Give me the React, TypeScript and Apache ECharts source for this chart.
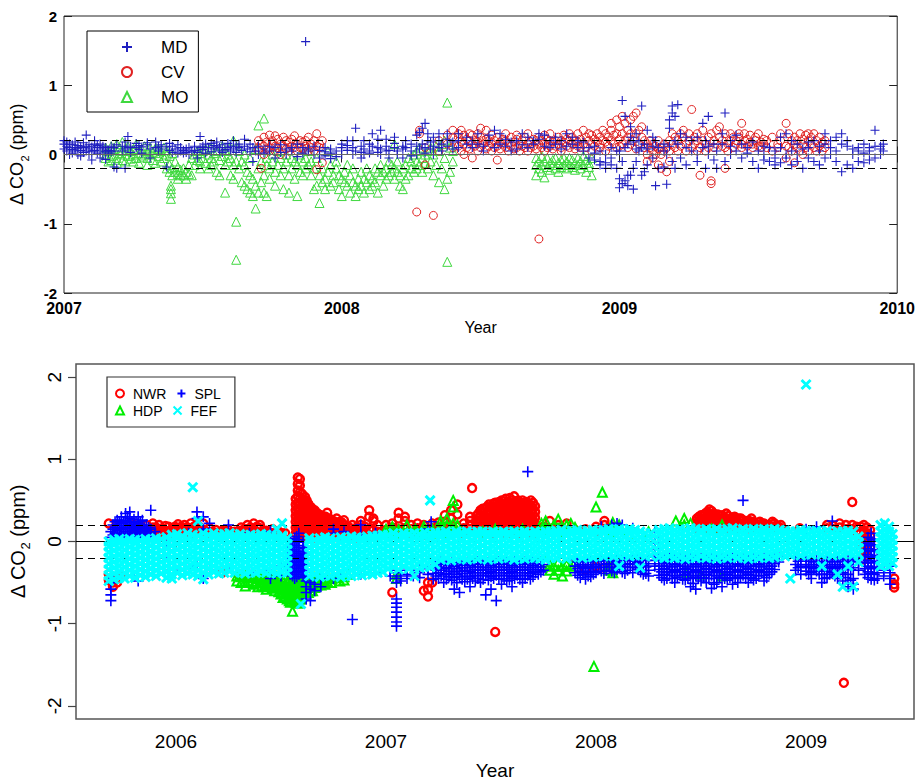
import React, { useEffect, useRef } from 'react';
import * as echarts from 'echarts';

// ---------- Top panel (2007-2010) : columns [year, y1, y2, ...] ----------
const topYearTicks = [2007, 2008, 2009, 2010];
const topSeriesNames = ['MD', 'CV', 'MO'];

const mdCols: number[][] = [
  [2007.00, 0.15, 0.08, 0.2], [2007.01, 0.05, 0.12, 0.18], [2007.02, 0.1, 0.0, 0.15], [2007.03, 0.07, 0.14, 0.02],
  [2007.04, 0.1, 0.18, 0.05], [2007.05, 0.0, 0.09, 0.13], [2007.06, 0.06, -0.02, 0.12], [2007.07, 0.1, 0.03, 0.17],
  [2007.08, 0.28, 0.12, 0.05], [2007.09, 0.08, 0.0, 0.14], [2007.10, 0.11, 0.04, -0.08], [2007.11, 0.15, 0.06, 0.2],
  [2007.12, 0.1, 0.02, 0.13], [2007.13, 0.05, 0.15, -0.05], [2007.14, 0.08, 0.12, 0.0], [2007.15, 0.04, 0.1, -0.07],
  [2007.16, 0.06, 0.02], [2007.17, 0.12, 0.04], [2007.18, 0.05, 0.1, -0.18], [2007.19, -0.2, 0.14],
  [2007.21, 0.12, 0.05], [2007.22, 0.18, 0.08, -0.2], [2007.23, 0.1, 0.26], [2007.24, 0.12, 0.03],
  [2007.26, 0.1, 0.16], [2007.27, 0.07, 0.13], [2007.28, 0.02, 0.11], [2007.30, 0.14, 0.17],
  [2007.31, 0.08, -0.05], [2007.33, 0.18, 0.1], [2007.34, 0.12, 0.05], [2007.35, 0.08, 0.14],
  [2007.37, 0.11, -0.18], [2007.38, 0.16, 0.06], [2007.39, 0.03, 0.12], [2007.40, 0.08],
  [2007.41, 0.14, 0.02], [2007.42, 0.05, 0.1], [2007.43, 0.02, 0.06], [2007.44, 0.08, 0.03],
  [2007.45, 0.1, 0.0], [2007.46, 0.04], [2007.47, 0.06, 0.12], [2007.48, 0.03, -0.05],
  [2007.49, 0.26, 0.1], [2007.50, 0.07, 0.12], [2007.51, 0.15, 0.02], [2007.52, 0.1],
  [2007.53, 0.04, 0.16], [2007.54, 0.08, 0.13], [2007.55, 0.12, 0.18], [2007.56, 0.05, 0.1],
  [2007.57, 0.14, 0.03], [2007.58, 0.07], [2007.59, 0.1, 0.16], [2007.60, 0.12, 0.05],
  [2007.61, 0.08, 0.2], [2007.62, 0.03, 0.12], [2007.63, 0.1, 0.15], [2007.64, 0.06],
  [2007.65, 0.22, 0.12], [2007.66, 0.08], [2007.67, 0.04, 0.15], [2007.68, 0.1, -0.1],
  [2007.69, 0.05], [2007.70, 0.12, 0.0], [2007.72, 0.08, 0.02], [2007.74, 0.12, 0.05],
  [2007.76, 0.1, -0.05], [2007.78, 0.14, 0.03], [2007.80, 0.08, 0.0], [2007.82, 0.1, 0.05],
  [2007.84, 0.15, -0.03], [2007.86, 0.1, 0.02], [2007.87, 1.63], [2007.88, 0.05, 0.08],
  [2007.90, 0.12, 0.0], [2007.92, 0.0, 0.06, -0.05], [2007.94, 0.04, -0.02, 0.1], [2007.96, 0.02, -0.06, 0.08],
  [2007.98, 0.05, -0.03], [2008.00, 0.1, 0.0, 0.15], [2008.02, 0.06, 0.13, 0.2], [2008.04, 0.1, 0.2, 0.0],
  [2008.05, 0.38, 0.05], [2008.07, 0.03, 0.12, -0.05], [2008.08, 0.0, 0.08, 0.2], [2008.10, 0.05, 0.15, 0.02],
  [2008.11, 0.3, 0.12], [2008.13, 0.1, 0.03, 0.22], [2008.14, 0.0, 0.35, 0.08], [2008.16, 0.12, 0.05, 0.22],
  [2008.17, 0.06, -0.05], [2008.19, 0.16, 0.1, 0.25], [2008.20, 0.05, 0.0], [2008.22, 0.12, 0.08, -0.05],
  [2008.23, 0.1, 0.2], [2008.25, 0.05, 0.15, -0.02], [2008.27, 0.12, 0.28, 0.0], [2008.28, 0.32, 0.08],
  [2008.29, 0.38, 0.15], [2008.30, 0.45, 0.1, 0.02], [2008.31, 0.3, 0.2], [2008.32, 0.18, 0.08],
  [2008.33, 0.12, 0.25, 0.0], [2008.35, 0.2, 0.1, 0.3], [2008.36, 0.05, 0.15], [2008.38, 0.12, 0.22, 0.3],
  [2008.40, 0.08, 0.18], [2008.42, 0.1, 0.2, 0.3], [2008.45, 0.15, 0.25], [2008.47, 0.1, 0.2],
  [2008.49, 0.3, 0.15], [2008.51, 0.12, 0.05], [2008.53, 0.2, 0.28], [2008.55, 0.1, 0.35],
  [2008.57, 0.15, 0.3], [2008.59, 0.12, 0.22], [2008.61, 0.05, 0.18], [2008.63, 0.2, 0.08],
  [2008.65, 0.14, 0.3], [2008.67, 0.1, 0.25], [2008.69, 0.15, 0.2], [2008.71, 0.22, 0.3],
  [2008.73, 0.12, 0.28], [2008.75, 0.1, 0.2], [2008.77, 0.25, 0.15], [2008.79, 0.08, 0.2],
  [2008.81, 0.3, 0.12], [2008.83, 0.15, 0.25], [2008.85, 0.1, 0.2], [2008.87, 0.05, 0.18],
  [2008.89, 0.1, -0.05], [2008.91, 0.02, -0.08, 0.12], [2008.93, -0.15, 0.05, -0.1], [2008.95, -0.12, 0.0, -0.2],
  [2008.97, -0.05, -0.15, 0.1], [2008.99, -0.2, 0.05], [2009.00, -0.48, -0.35, 0.05], [2009.01, 0.78, -0.42, -0.1],
  [2009.02, -0.38, 0.1, 0.55], [2009.03, -0.45, -0.3, 0.15], [2009.04, 0.4, -0.3, 0.25], [2009.05, -0.5, -0.2, 0.18],
  [2009.06, 0.3, -0.1, 0.08], [2009.07, 0.2, 0.05], [2009.08, 0.7, -0.3, 0.1], [2009.09, -0.25, 0.15],
  [2009.10, 0.35, 0.08, -0.15], [2009.12, 0.25, -0.05, 0.12], [2009.13, -0.45, 0.2], [2009.14, 0.1, -0.2],
  [2009.16, 0.05, -0.18, 0.15], [2009.17, -0.43, 0.0], [2009.18, 0.5, 0.38, 0.12], [2009.19, 0.6, 0.7, -0.1],
  [2009.20, 0.55, 0.2, -0.2], [2009.21, 0.72, 0.15], [2009.22, -0.05, 0.3], [2009.24, 0.1, -0.15, 0.25],
  [2009.26, 0.2, 0.05], [2009.28, 0.0, 0.25, -0.1], [2009.30, 0.45, 0.1], [2009.31, 0.2, -0.2],
  [2009.32, 0.55, 0.0, 0.12], [2009.34, 0.15, -0.08], [2009.35, -0.2, 0.05], [2009.37, 0.15, 0.3],
  [2009.38, 0.6, -0.1], [2009.40, 0.12, 0.0, 0.2], [2009.42, 0.05, 0.28], [2009.44, -0.05, 0.15],
  [2009.46, 0.1, 0.02], [2009.48, -0.1, 0.18], [2009.50, 0.05, -0.2], [2009.52, 0.0, -0.08, 0.12],
  [2009.54, -0.1, 0.1], [2009.56, -0.05, -0.15, 0.05], [2009.58, 0.1, -0.12, 0.25], [2009.60, 0.3, -0.05, 0.0],
  [2009.62, -0.15, 0.05, 0.2], [2009.64, 0.15, 0.0, -0.1], [2009.66, 0.08, -0.2], [2009.68, 0.1, -0.05, 0.18],
  [2009.70, 0.2, -0.1], [2009.72, 0.05, -0.15, 0.12], [2009.74, 0.3, -0.05, 0.15], [2009.76, 0.1, 0.0, 0.2],
  [2009.78, 0.25, -0.1, 0.05], [2009.80, 0.15, -0.25, 0.3], [2009.82, 0.12, -0.15, 0.2], [2009.84, 0.08, 0.0, -0.2],
  [2009.86, 0.1, -0.1, 0.05], [2009.88, 0.15, 0.02, -0.12], [2009.90, 0.05, 0.1, -0.08], [2009.92, 0.12, -0.05, 0.35],
  [2009.94, 0.08, 0.0, 0.12], [2009.95, 0.15, 0.05],
];

const cvCols: number[][] = [
  [2007.70, 0.2, 0.1, 0.05], [2007.71, 0.15, -0.2], [2007.72, 0.25, 0.12, 0.0], [2007.73, 0.18, 0.08],
  [2007.74, 0.28, 0.1, 0.05], [2007.75, 0.2, 0.15], [2007.76, 0.27, 0.05, 0.12], [2007.77, 0.22, 0.1],
  [2007.78, 0.15, 0.0], [2007.79, 0.25, 0.12], [2007.80, 0.2, 0.08], [2007.81, 0.1, 0.18, 0.05],
  [2007.82, 0.22, 0.12], [2007.83, 0.27, 0.1], [2007.84, 0.15, 0.05], [2007.85, 0.2, 0.1],
  [2007.86, 0.18, 0.08], [2007.87, 0.12, 0.2], [2007.88, 0.25, 0.05], [2007.89, 0.15, 0.1],
  [2007.90, 0.2, 0.05], [2007.91, 0.3, 0.12, -0.22], [2007.92, 0.1, 0.15], [2007.93, 0.2, -0.12],
  [2008.27, -0.83], [2008.28, 0.35, 0.3], [2008.30, 0.1, -0.15], [2008.33, -0.88],
  [2008.35, 0.2, 0.05], [2008.38, 0.15, 0.28], [2008.40, 0.1, 0.25, 0.35],
  [2008.42, 0.12, 0.25, 0.3], [2008.43, 0.05, 0.18, 0.35], [2008.44, 0.15, 0.28, 0.0], [2008.45, 0.1, 0.22],
  [2008.46, 0.2, 0.08, 0.3], [2008.47, 0.15, 0.28, -0.05], [2008.48, 0.12, 0.2], [2008.49, 0.05, 0.18, 0.3],
  [2008.50, 0.1, 0.25, 0.38], [2008.51, 0.2, 0.15], [2008.52, 0.08, 0.22, 0.35], [2008.53, 0.12, 0.2],
  [2008.54, 0.15, 0.05, 0.28], [2008.55, 0.2, 0.1], [2008.56, 0.12, 0.25, -0.08], [2008.57, 0.18, 0.08],
  [2008.58, 0.15, 0.22], [2008.59, 0.1, 0.2, 0.3], [2008.60, 0.05, 0.15], [2008.61, 0.12, 0.25],
  [2008.62, 0.18, 0.08], [2008.63, 0.1, 0.22, 0.28], [2008.64, 0.15, 0.05], [2008.65, 0.2, 0.12],
  [2008.66, 0.1, 0.25], [2008.67, 0.15, 0.05, 0.3], [2008.68, 0.18, 0.1], [2008.69, 0.12, 0.22],
  [2008.70, 0.2, 0.08], [2008.71, -1.22, 0.15, 0.25], [2008.72, 0.1, 0.2], [2008.73, 0.15, 0.05, 0.28],
  [2008.74, 0.22, 0.1], [2008.75, 0.12, 0.2, 0.3], [2008.76, 0.08, 0.18], [2008.77, 0.2, 0.12],
  [2008.78, 0.15, 0.25], [2008.79, 0.1, 0.2, 0.05], [2008.80, 0.18, 0.28], [2008.81, 0.12, 0.22],
  [2008.82, 0.2, 0.1, 0.3], [2008.83, 0.15, 0.25], [2008.84, 0.08, 0.2], [2008.85, 0.18, 0.3, 0.12],
  [2008.86, 0.22, 0.1], [2008.87, 0.15, 0.35], [2008.88, 0.1, 0.25], [2008.89, 0.2, 0.3],
  [2008.90, 0.15, 0.28, 0.05], [2008.91, 0.22, 0.12], [2008.92, 0.3, 0.18], [2008.93, 0.15, 0.25, 0.1],
  [2008.94, 0.35, 0.2], [2008.95, 0.18, 0.3, 0.05], [2008.96, 0.25, 0.12], [2008.97, 0.35, 0.2, 0.45],
  [2008.98, 0.28, 0.15], [2008.99, 0.3, 0.5, 0.1], [2009.00, 0.22, 0.4, 0.12], [2009.01, 0.3, 0.55, 0.15],
  [2009.02, 0.45, 0.2], [2009.03, 0.35, 0.25, 0.1], [2009.04, 0.5, 0.3, 0.15], [2009.05, 0.55, 0.2],
  [2009.06, 0.6, 0.3, 0.08], [2009.07, 0.35, 0.15], [2009.08, 0.25, 0.4], [2009.09, 0.2, 0.1],
  [2009.10, 0.15, 0.0, -0.1], [2009.11, 0.1, 0.2], [2009.12, 0.05, -0.05, 0.15], [2009.13, 0.12, 0.0],
  [2009.14, 0.08, -0.15, 0.2], [2009.15, 0.0, 0.1, -0.2], [2009.16, 0.15, 0.05], [2009.17, -0.25, 0.1],
  [2009.18, 0.05, 0.2, -0.1], [2009.19, 0.15, 0.3], [2009.20, 0.1, 0.25], [2009.21, 0.2, 0.05],
  [2009.22, 0.3, 0.12], [2009.23, 0.25, 0.35], [2009.24, 0.15, 0.05], [2009.25, 0.2, 0.3],
  [2009.26, 0.65, 0.1], [2009.27, 0.25, 0.15], [2009.28, 0.3, 0.05, 0.2], [2009.29, 0.1, -0.3],
  [2009.30, 0.2, 0.35], [2009.31, 0.15, 0.05], [2009.32, 0.25, 0.1], [2009.33, -0.38, -0.42, 0.3],
  [2009.34, 0.2, 0.1], [2009.35, 0.35, 0.15], [2009.36, 0.25, 0.4], [2009.37, 0.2, 0.12],
  [2009.38, 0.1, -0.2, 0.3], [2009.39, 0.15, 0.05], [2009.40, 0.3, 0.2], [2009.41, 0.1, 0.25],
  [2009.42, 0.2, 0.15], [2009.43, 0.25, 0.3], [2009.44, 0.15, 0.1, 0.45], [2009.45, 0.2, 0.3],
  [2009.46, 0.12, 0.22], [2009.47, 0.18, 0.28], [2009.48, 0.15, 0.1], [2009.49, 0.2, 0.25],
  [2009.50, 0.12, 0.3], [2009.51, 0.18, 0.1], [2009.52, 0.15, 0.22], [2009.53, 0.1, 0.2],
  [2009.55, 0.25, 0.05], [2009.57, 0.15, 0.1], [2009.58, 0.2, 0.3], [2009.60, 0.45, 0.12, -0.05],
  [2009.61, 0.3, 0.1], [2009.62, 0.2, 0.05], [2009.63, 0.25, 0.15, -0.12], [2009.64, 0.1, 0.2],
  [2009.65, 0.3, 0.05], [2009.66, 0.22, 0.15, 0.0], [2009.67, 0.28, 0.1], [2009.68, 0.3, 0.2, 0.05],
  [2009.69, 0.15, 0.25], [2009.70, 0.1, 0.3], [2009.71, 0.2, 0.05], [2009.72, 0.12, 0.25],
  [2009.73, 0.05, 0.18], [2009.74, 0.1, 0.2],
];

const moCols: number[][] = [
  [2007.15, 0.1, 0.0, -0.05], [2007.16, 0.05, -0.1], [2007.17, 0.12, -0.02, -0.08], [2007.18, 0.0, 0.08],
  [2007.19, -0.05, 0.15, -0.12], [2007.20, 0.02, 0.1], [2007.21, -0.08, 0.05, 0.18], [2007.22, 0.0, -0.1],
  [2007.23, 0.12, -0.02], [2007.24, 0.05, -0.06], [2007.25, -0.1, 0.08, 0.0], [2007.26, 0.15, -0.05],
  [2007.27, 0.02, -0.12], [2007.28, 0.08, -0.03], [2007.29, 0.0, 0.12], [2007.30, -0.05, 0.05, -0.15],
  [2007.31, 0.1, 0.0], [2007.32, -0.08, 0.04], [2007.33, 0.02, -0.12, 0.1], [2007.34, -0.02, 0.08],
  [2007.35, 0.05, -0.1], [2007.36, -0.05, 0.1], [2007.37, 0.0, -0.2, 0.06], [2007.38, -0.25, -0.15, -0.02],
  [2007.385, -0.45, -0.5, -0.56, -0.64], [2007.39, -0.2, -0.3, 0.02], [2007.40, -0.25, -0.1],
  [2007.41, -0.28, -0.18, -0.35], [2007.42, -0.22, -0.3], [2007.43, -0.3, -0.2], [2007.44, -0.25, -0.35],
  [2007.45, -0.15, -0.28], [2007.46, -0.05, -0.3], [2007.47, 0.0, -0.15], [2007.48, -0.08, 0.05],
  [2007.49, -0.1, 0.02, -0.2], [2007.50, 0.05, -0.05], [2007.51, -0.12, 0.08], [2007.52, 0.0, -0.2],
  [2007.53, -0.05, 0.1, -0.15], [2007.54, 0.02, -0.1], [2007.55, -0.25, 0.05], [2007.56, -0.08, -0.3],
  [2007.57, 0.12, -0.02], [2007.58, -0.55, -0.15, 0.05], [2007.59, -0.1, 0.0], [2007.60, -0.3, -0.05],
  [2007.61, 0.2, -0.15, -0.35], [2007.62, -0.97, -1.52, -0.1], [2007.63, -0.2, 0.05], [2007.64, -0.4, -0.1],
  [2007.65, -0.45, -0.15, 0.0], [2007.66, -0.5, -0.25], [2007.67, -0.55, -0.3, -0.05], [2007.68, -0.6, -0.35],
  [2007.69, -0.78, -0.45, 0.08], [2007.70, -0.55, 0.42, -0.2], [2007.71, -0.4, -0.1], [2007.72, 0.52, -0.3, -0.55],
  [2007.73, -0.15, -0.05, -0.6], [2007.74, -0.35, -0.2], [2007.75, -0.1, 0.0], [2007.76, -0.25, -0.45],
  [2007.77, -0.15, 0.05], [2007.78, -0.3, -0.05], [2007.79, -0.5, -0.2], [2007.80, -0.1, 0.0],
  [2007.81, -0.55, -0.3], [2007.82, -0.2, -0.05], [2007.83, -0.35, -0.1], [2007.84, -0.6, -0.15],
  [2007.85, -0.25, 0.0], [2007.86, -0.1, -0.3], [2007.87, -0.05, -0.2], [2007.88, -0.15, 0.05],
  [2007.89, -0.3, -0.1], [2007.90, -0.2, -0.5], [2007.91, -0.45, -0.05], [2007.92, -0.7, -0.3],
  [2007.93, -0.4, -0.2], [2007.94, -0.35, -0.5], [2007.95, -0.25, 0.05], [2007.96, -0.45, -0.15],
  [2007.97, -0.3, -0.4], [2007.98, -0.2, -0.1], [2007.99, -0.5, -0.3], [2008.00, -0.6, -0.35],
  [2008.01, -0.25, -0.4], [2008.02, -0.45, -0.15], [2008.03, -0.3, -0.55], [2008.04, -0.4, -0.2],
  [2008.05, -0.6, -0.45], [2008.06, -0.35, -0.5], [2008.07, -0.25, -0.45], [2008.08, -0.55, -0.35],
  [2008.09, -0.4, -0.2], [2008.10, -0.5, -0.3], [2008.11, -0.35, -0.45], [2008.12, -0.2, -0.4],
  [2008.13, -0.55, -0.25], [2008.14, -0.3, -0.15], [2008.15, -0.45, -0.25], [2008.16, -0.2, -0.35],
  [2008.17, -0.3, -0.1], [2008.18, -0.15, -0.25], [2008.19, -0.35, -0.2, 0.15], [2008.20, -0.25, -0.1],
  [2008.21, -0.45, -0.3], [2008.22, -0.5, -0.2], [2008.23, -0.15, -0.35], [2008.24, -0.3, -0.05],
  [2008.25, -0.2, -0.1], [2008.26, -0.25, 0.0], [2008.27, -0.1, 0.05, -0.2], [2008.28, -0.15, 0.1],
  [2008.29, -0.05, -0.25], [2008.30, 0.0, -0.12], [2008.31, 0.05, -0.2], [2008.32, -0.1, 0.1],
  [2008.33, -0.3, 0.0], [2008.34, -0.15, 0.12], [2008.35, -0.4, 0.05], [2008.36, -0.2, 0.15],
  [2008.37, -0.5, 0.2, -0.05], [2008.38, 0.75, -1.55, -0.35], [2008.39, 0.1, -0.25], [2008.40, 0.05, -0.1],
  [2008.70, -0.05, -0.15, -0.3], [2008.71, -0.1, -0.2], [2008.72, -0.02, -0.15, -0.25], [2008.73, -0.1, -0.33],
  [2008.74, -0.05, -0.18], [2008.75, -0.12, -0.22], [2008.76, -0.08, -0.15], [2008.77, -0.2, -0.05],
  [2008.78, -0.12, -0.25], [2008.79, -0.08, -0.18], [2008.80, -0.15, -0.05], [2008.81, -0.1, -0.2],
  [2008.82, -0.05, -0.15], [2008.83, -0.18, -0.08], [2008.84, -0.12, -0.22], [2008.85, -0.05, -0.15],
  [2008.86, -0.1, -0.2], [2008.87, -0.15, -0.02], [2008.88, -0.08, -0.25], [2008.89, -0.12, -0.18],
  [2008.90, -0.3, -0.05],
];

// ---------- Bottom panel (2005.5-2009.5) ----------
const bottomXMin = 2005.524;
const bottomXMax = 2009.514;
const bottomYearTicks = [2006, 2007, 2008, 2009];
const bottomYTicks = [-2, -1, 0, 1, 2];
const bottomSeriesNames = ['NWR', 'SPL', 'HDP', 'FEF'];

const nwrCols: number[][] = [
  [2005.68, 0.22, -0.4, -0.47], [2005.70, -0.5, -0.55], [2005.72, -0.45, -0.5], [2005.74, -0.42],
  [2005.80, 0.08, 0.14, 0.2], [2005.83, 0.06, 0.12, 0.19], [2005.86, 0.07, 0.13, 0.2], [2005.89, 0.05, 0.11, 0.17, 0.22],
  [2005.92, 0.08, 0.14, 0.2], [2005.95, 0.07, 0.13, 0.19], [2005.98, 0.09, 0.15], [2006.01, 0.1, 0.16, 0.21],
  [2006.04, 0.1, 0.16, 0.2], [2006.07, 0.09, 0.14, 0.22], [2006.10, 0.1, 0.15, 0.2], [2006.13, 0.09, 0.14, 0.22],
  [2006.16, 0.1, 0.16], [2006.19, 0.09, 0.14], [2006.22, 0.1, 0.13, -0.38], [2006.25, 0.09, 0.14],
  [2006.28, 0.1, 0.12], [2006.30, -0.4], [2006.31, 0.09, 0.13, 0.17], [2006.34, 0.1, 0.15, 0.2], [2006.37, 0.09, 0.14, 0.22],
  [2006.40, 0.1, 0.16, 0.2], [2006.43, 0.09, 0.13], [2006.46, 0.1, 0.15], [2006.49, 0.08, 0.12], [2006.52, 0.1],
  [2005.815, 0.1, 0.17], [2005.845, 0.1, 0.16], [2005.875, 0.09, 0.15], [2005.905, 0.1, 0.17], [2005.935, 0.1, 0.16],
  [2005.965, 0.11, 0.18], [2005.995, 0.12, 0.18], [2006.025, 0.12, 0.18], [2006.055, 0.12, 0.17], [2006.085, 0.12, 0.18],
  [2006.115, 0.12, 0.17], [2006.145, 0.12], [2006.175, 0.12], [2006.205, 0.11], [2006.235, 0.12], [2006.265, 0.11],
  [2006.295, 0.12], [2006.325, 0.11, 0.15], [2006.355, 0.12, 0.17], [2006.385, 0.12, 0.18], [2006.415, 0.12],
  [2006.445, 0.11], [2006.475, 0.1], [2006.505, 0.1],
  [2006.57, 0.1, 0.17, 0.24, 0.31, 0.38, 0.45, 0.52], [2006.58, 0.12, 0.19, 0.26, 0.33, 0.4, 0.47, 0.55, 0.62, 0.7, 0.78],
  [2006.59, 0.1, 0.17, 0.24, 0.31, 0.38, 0.45, 0.52, 0.6, 0.68, 0.76], [2006.60, 0.08, 0.15, 0.22, 0.29, 0.36, 0.43, 0.5, 0.58],
  [2006.615, 0.05, 0.12, 0.19, 0.26, 0.33, 0.4, 0.47, 0.54], [2006.63, 0.05, 0.12, 0.19, 0.26, 0.33, 0.4, 0.46],
  [2006.645, 0.06, 0.13, 0.2, 0.27, 0.34, 0.41], [2006.66, 0.05, 0.12, 0.19, 0.26, 0.33, 0.38],
  [2006.675, 0.06, 0.13, 0.2, 0.27, 0.34], [2006.69, 0.05, 0.12, 0.19, 0.26, 0.32],
  [2006.705, 0.06, 0.13, 0.2, 0.27, 0.3], [2006.72, 0.05, 0.12, 0.19, 0.26, 0.35],
  [2006.735, 0.06, 0.13, 0.2, 0.27], [2006.75, 0.05, 0.12, 0.19, 0.25], [2006.765, 0.06, 0.13, 0.2, 0.28],
  [2006.78, 0.05, 0.12, 0.19, 0.24], [2006.80, 0.06, 0.13, 0.2, 0.26], [2006.82, 0.05, 0.12, 0.18],
  [2006.84, 0.06, 0.13, 0.2], [2006.86, 0.05, 0.12, 0.17], [2006.88, 0.06, 0.13, 0.2, 0.25], [2006.90, 0.05, 0.12, 0.18],
  [2006.6075, 0.09, 0.16, 0.23, 0.3, 0.37, 0.44, 0.51], [2006.6225, 0.09, 0.16, 0.23, 0.3, 0.37, 0.44, 0.5],
  [2006.6375, 0.09, 0.16, 0.23, 0.3, 0.37, 0.43], [2006.6525, 0.09, 0.16, 0.23, 0.3, 0.37], [2006.6675, 0.09, 0.16, 0.23, 0.3, 0.35],
  [2006.6825, 0.09, 0.16, 0.23, 0.3], [2006.6975, 0.09, 0.16, 0.23, 0.29], [2006.7125, 0.09, 0.16, 0.23, 0.3],
  [2006.7275, 0.09, 0.16, 0.23, 0.28], [2006.7425, 0.09, 0.16, 0.22], [2006.7575, 0.09, 0.16, 0.23], [2006.7725, 0.09, 0.16, 0.22],
  [2006.79, 0.09, 0.16, 0.23], [2006.81, 0.09, 0.16], [2006.83, 0.09, 0.16], [2006.85, 0.09, 0.15], [2006.87, 0.09, 0.16], [2006.89, 0.09, 0.15],
  [2006.92, 0.08, 0.15, 0.38, 0.3], [2006.94, 0.07, 0.14, 0.25, 0.28], [2006.96, 0.06, 0.12, 0.2],
  [2007.00, 0.08, 0.14, 0.2], [2007.03, 0.1, 0.17, 0.22, -0.62], [2007.06, 0.09, 0.15, 0.28, 0.35],
  [2007.09, 0.1, 0.16, 0.3, 0.25], [2007.12, 0.09, 0.15, 0.2], [2007.15, 0.1, 0.16, 0.22],
  [2007.18, 0.08, 0.15, 0.2, -0.6], [2007.20, -0.67, -0.58, -0.5], [2007.22, 0.1, 0.16, 0.22, -0.5],
  [2007.25, 0.1, 0.17, 0.23], [2007.28, 0.12, 0.18, 0.32, 0.24], [2007.31, 0.1, 0.16, 0.38, 0.28],
  [2007.34, 0.12, 0.18, 0.45, 0.33], [2007.37, 0.1, 0.16, 0.22], [2007.40, 0.12, 0.19, 0.25, 0.3], [2007.41, 0.65],
  [2007.43, 0.1, 0.17, 0.24, 0.31], [2007.45, 0.11, 0.18, 0.25, 0.32, 0.38], [2007.47, 0.1, 0.17, 0.24, 0.31, 0.4],
  [2007.49, 0.11, 0.18, 0.25, 0.32, 0.39, 0.45], [2007.51, 0.1, 0.17, 0.24, 0.31, 0.38, 0.46], [2007.52, -1.1],
  [2007.53, 0.11, 0.18, 0.25, 0.32, 0.39, 0.47], [2007.55, 0.1, 0.17, 0.24, 0.31, 0.38, 0.45, 0.5],
  [2007.57, 0.11, 0.18, 0.25, 0.32, 0.39, 0.46, 0.52], [2007.59, 0.1, 0.17, 0.24, 0.31, 0.38, 0.45, 0.53],
  [2007.61, 0.11, 0.18, 0.25, 0.32, 0.39, 0.48, 0.55], [2007.63, 0.1, 0.17, 0.24, 0.31, 0.38, 0.44, 0.5],
  [2007.65, 0.11, 0.18, 0.25, 0.32, 0.38, 0.45, 0.5], [2007.67, 0.1, 0.17, 0.24, 0.31, 0.36, 0.43, 0.48],
  [2007.69, 0.11, 0.18, 0.25, 0.3, 0.37, 0.44, 0.5], [2007.71, 0.1, 0.17, 0.22, 0.29, 0.36, 0.43],
  [2007.44, 0.14, 0.21, 0.28, 0.34], [2007.46, 0.14, 0.21, 0.28, 0.35, 0.4], [2007.48, 0.14, 0.21, 0.28, 0.35, 0.42],
  [2007.50, 0.14, 0.21, 0.28, 0.35, 0.42], [2007.52, 0.14, 0.21, 0.28, 0.35, 0.42, 0.47], [2007.54, 0.14, 0.21, 0.28, 0.35, 0.42, 0.48],
  [2007.56, 0.14, 0.21, 0.28, 0.35, 0.42, 0.49], [2007.58, 0.14, 0.21, 0.28, 0.35, 0.42, 0.48], [2007.60, 0.14, 0.21, 0.28, 0.35, 0.42, 0.5],
  [2007.62, 0.14, 0.21, 0.28, 0.35, 0.42, 0.49], [2007.64, 0.14, 0.21, 0.28, 0.35, 0.41, 0.47], [2007.66, 0.14, 0.21, 0.28, 0.34, 0.41, 0.47],
  [2007.68, 0.14, 0.21, 0.28, 0.33, 0.4, 0.46], [2007.70, 0.14, 0.21, 0.26, 0.33, 0.4, 0.47],
  [2007.75, 0.13, 0.18], [2007.78, 0.12, 0.25], [2007.82, 0.15, 0.2], [2007.86, 0.12, 0.22], [2007.90, 0.14],
  [2007.95, 0.15, -0.35], [2008.00, 0.12, 0.18, -0.3], [2008.04, 0.2, 0.25, -0.32], [2008.08, 0.18],
  [2008.48, 0.16, 0.22, 0.28], [2008.50, 0.15, 0.21, 0.27, 0.32], [2008.52, 0.16, 0.22, 0.28, 0.34],
  [2008.54, 0.15, 0.21, 0.27, 0.33, 0.39], [2008.56, 0.16, 0.22, 0.28, 0.34], [2008.58, 0.15, 0.21, 0.27, 0.33],
  [2008.60, 0.16, 0.22, 0.28, 0.32], [2008.62, 0.15, 0.21, 0.27, 0.34], [2008.64, 0.16, 0.22, 0.28],
  [2008.66, 0.15, 0.21, 0.26, 0.3], [2008.68, 0.16, 0.22, 0.28], [2008.70, 0.15, 0.21, 0.26],
  [2008.72, 0.16, 0.22, 0.25], [2008.74, 0.15, 0.21, 0.28], [2008.76, 0.16, 0.22], [2008.78, 0.15, 0.2, 0.24],
  [2008.80, 0.16, 0.22], [2008.82, 0.15, 0.2], [2008.84, 0.16, 0.21, 0.24], [2008.86, 0.15, 0.19],
  [2008.88, 0.16, 0.2], [2008.90, 0.14],
  [2008.49, 0.19, 0.25, 0.3], [2008.51, 0.19, 0.25, 0.31], [2008.53, 0.19, 0.25, 0.31, 0.36], [2008.55, 0.19, 0.25, 0.31, 0.37],
  [2008.57, 0.19, 0.25, 0.31], [2008.59, 0.19, 0.25, 0.31], [2008.61, 0.19, 0.25, 0.3], [2008.63, 0.19, 0.25, 0.31],
  [2008.65, 0.19, 0.25, 0.29], [2008.67, 0.19, 0.25], [2008.69, 0.19, 0.25, 0.28], [2008.71, 0.19, 0.24], [2008.73, 0.19, 0.25],
  [2008.75, 0.19, 0.24], [2008.77, 0.19], [2008.79, 0.18, 0.22], [2008.81, 0.19], [2008.83, 0.18], [2008.85, 0.18, 0.22], [2008.87, 0.18],
  [2008.97, 0.16], [2009.10, 0.16, 0.2], [2009.13, 0.15, 0.19],
  [2009.16, 0.17, 0.22], [2009.18, -1.72], [2009.19, 0.15, 0.2], [2009.22, 0.48, 0.2, 0.15], [2009.24, 0.18, 0.12],
  [2009.26, 0.18, 0.11, 0.04, -0.03, -0.1], [2009.275, 0.2, 0.13, 0.06, -0.01, -0.08, -0.15, -0.22],
  [2009.29, 0.17, 0.1, 0.03, -0.04, -0.11, -0.18], [2009.305, 0.14, 0.07, 0.0, -0.07],
  [2009.42, -0.45, -0.52, -0.56],
];

const hdpCols: number[][] = [
  [2006.29, -0.42, -0.48], [2006.31, -0.43, -0.5], [2006.33, -0.42, -0.48, -0.54], [2006.35, -0.43, -0.5],
  [2006.37, -0.44, -0.52], [2006.39, -0.45, -0.55],
  [2006.38, -0.42, -0.48], [2006.40, -0.43, -0.5], [2006.42, -0.42, -0.49, -0.55], [2006.44, -0.44, -0.51],
  [2006.46, -0.42, -0.48, -0.56], [2006.48, -0.43, -0.5, -0.57], [2006.50, -0.44, -0.51, -0.58, -0.64],
  [2006.52, -0.45, -0.52, -0.59, -0.66], [2006.54, -0.46, -0.53, -0.6, -0.68, -0.72],
  [2006.555, -0.48, -0.55, -0.62, -0.7, -0.85], [2006.57, -0.47, -0.54, -0.61, -0.68, -0.74],
  [2006.585, -0.48, -0.55, -0.62, -0.7], [2006.60, -0.45, -0.52, -0.59, -0.66], [2006.62, -0.44, -0.51, -0.58],
  [2006.64, -0.45, -0.52, -0.6], [2006.66, -0.44, -0.5, -0.56], [2006.68, -0.43, -0.5], [2006.70, -0.44, -0.5],
  [2006.72, -0.42, -0.48], [2006.75, -0.43], [2006.78, -0.42, -0.48], [2006.82, -0.4],
  [2006.41, -0.47, -0.54], [2006.43, -0.46, -0.53, -0.58], [2006.45, -0.47, -0.54], [2006.47, -0.46, -0.53, -0.6],
  [2006.49, -0.47, -0.54, -0.61], [2006.51, -0.48, -0.55, -0.62, -0.68], [2006.53, -0.49, -0.56, -0.63, -0.7],
  [2006.545, -0.5, -0.57, -0.64, -0.74], [2006.565, -0.51, -0.58, -0.65, -0.72], [2006.58, -0.51, -0.58, -0.66, -0.75],
  [2006.595, -0.49, -0.56, -0.63, -0.7], [2006.61, -0.48, -0.55, -0.62], [2006.63, -0.48, -0.55, -0.62],
  [2006.65, -0.47, -0.54, -0.6], [2006.67, -0.47, -0.53], [2006.69, -0.46, -0.53], [2006.71, -0.46, -0.52],
  [2006.74, -0.45, -0.5], [2006.77, -0.44], [2006.80, -0.43, -0.47],
  [2007.00, 0.1, 0.15], [2007.03, 0.12, 0.18], [2007.05, -0.4, -0.45], [2007.06, 0.1, 0.14], [2007.10, 0.12, 0.2],
  [2007.14, 0.1, 0.15], [2007.18, 0.12, 0.18], [2007.22, 0.1, 0.15], [2007.26, 0.12, 0.18, 0.25],
  [2007.29, 0.1, 0.2, 0.28], [2007.32, 0.15, 0.22, 0.42, 0.5], [2007.34, 0.12, 0.2],
  [2007.46, 0.12], [2007.52, 0.15], [2007.60, 0.12], [2007.65, 0.15],
  [2007.74, 0.22, 0.12], [2007.76, 0.25, 0.17, -0.25], [2007.78, 0.15, -0.28, -0.35], [2007.80, 0.2, -0.3, -0.4],
  [2007.82, 0.27, 0.15, -0.25, -0.35], [2007.84, -0.3, -0.42, 0.12], [2007.86, 0.2, -0.28, -0.36],
  [2007.88, 0.22, -0.3], [2007.90, 0.17, -0.25], [2007.99, -1.52], [2008.00, 0.42], [2008.03, 0.6],
  [2008.06, -0.28, -0.35], [2008.08, 0.12, 0.23, -0.3, -0.38], [2008.11, 0.15, 0.2], [2008.15, 0.1], [2008.25, 0.12],
  [2008.38, 0.25], [2008.42, 0.2, 0.28], [2008.43, -0.38], [2008.45, 0.22], [2008.50, -0.4], [2008.55, 0.15],
  [2008.60, 0.2, -0.42],
];

const splCols: number[][] = [
  [2005.69, 0.05, 0.12, -0.5, -0.58, -0.65, -0.72], [2005.70, 0.08, 0.15, 0.2, -0.45], [2005.72, 0.06, 0.13, 0.2, 0.26],
  [2005.74, 0.08, 0.15, 0.22, 0.3], [2005.76, 0.05, 0.12, 0.19, 0.26, 0.34], [2005.78, 0.07, 0.14, 0.21, 0.28, 0.36],
  [2005.80, 0.06, 0.13, 0.2, 0.27, -0.42], [2005.82, 0.08, 0.15, 0.22, 0.3, -0.48], [2005.84, 0.05, 0.12, 0.19, 0.26],
  [2005.86, 0.06, 0.13, 0.2], [2005.88, 0.38, 0.08, 0.15], [2005.90, 0.05, 0.12],
  [2005.71, 0.1, 0.17, 0.24], [2005.73, 0.1, 0.17, 0.24], [2005.75, 0.09, 0.16, 0.23], [2005.77, 0.1, 0.17, 0.24, 0.3],
  [2005.79, 0.1, 0.17, 0.24], [2005.81, 0.1, 0.17, 0.24], [2005.83, 0.1, 0.17, 0.24], [2005.85, 0.09, 0.16], [2005.87, 0.1, 0.17],
  [2005.95, -0.05, 0.03], [2005.97, -0.2, -0.35, 0.0], [2006.02, -0.35, 0.05], [2006.06, -0.33, 0.1],
  [2006.10, 0.36, 0.28, -0.3], [2006.13, 0.3, 0.15, -0.45], [2006.16, 0.22, -0.35], [2006.25, 0.2, -0.32],
  [2006.35, 0.1, -0.38], [2006.45, 0.12, -0.35, -0.45], [2006.50, -0.3, -0.42],
  [2006.545, -0.4, -0.33, -0.26, -0.19, -0.12, -0.05, 0.02],
  [2006.555, -0.42, -0.35, -0.28, -0.21, -0.14, -0.07], [2006.565, -0.45, -0.38, -0.31, -0.24, -0.17, -0.1, -0.03, 0.04],
  [2006.575, -0.43, -0.36, -0.29, -0.22, -0.15, -0.08, -0.01, 0.06], [2006.585, -0.4, -0.33, -0.26, -0.19, -0.12, -0.05, 0.02, 0.1],
  [2006.595, -0.38, -0.31, -0.24, -0.17], [2006.605, -0.42, -0.35, -0.28, -0.21, -0.14, -0.07, 0.0],
  [2006.615, -0.44, -0.37, -0.3, -0.23, -0.16, -0.09],
  [2006.62, -0.48, -0.55, -0.62, -0.7], [2006.64, -0.5, -0.58, -0.72],
  [2006.66, -0.52, -0.6], [2006.69, -0.45, -0.55], [2006.75, 0.1, 0.15, -0.45], [2006.80, 0.12, -0.4],
  [2006.84, -0.95], [2006.88, 0.2, 0.08, -0.4], [2006.95, 0.1, -0.38],
  [2007.02, -0.35, -0.42], [2007.05, -0.38, -0.45, -0.5, -0.7, -0.75, -0.8, -0.86, -0.92, -0.98, -1.03],
  [2007.07, -0.35, -0.42, -0.48], [2007.10, -0.32, -0.4, -0.45], [2007.13, -0.35, -0.42],
  [2007.16, -0.3, -0.38, -0.44], [2007.20, -0.33, -0.4, 0.15], [2007.215, 0.24],
  [2007.225, -0.25, -0.32, -0.39, -0.46], [2007.25, -0.24, -0.31, -0.38, -0.45], [2007.275, -0.26, -0.33, -0.4, -0.5],
  [2007.30, -0.22, -0.29, -0.36, -0.43], [2007.325, -0.23, -0.3, -0.37, -0.44, -0.58],
  [2007.35, -0.22, -0.29, -0.36, -0.43, -0.62], [2007.375, -0.21, -0.28, -0.35, -0.42, -0.49],
  [2007.40, -0.22, -0.29, -0.36, -0.43, -0.55], [2007.425, -0.2, -0.27, -0.34, -0.41, -0.48],
  [2007.45, -0.21, -0.28, -0.35, -0.42, -0.5], [2007.475, -0.2, -0.27, -0.34, -0.41, -0.65],
  [2007.50, -0.22, -0.29, -0.36, -0.43, -0.58], [2007.525, -0.2, -0.27, -0.34, -0.41, -0.72],
  [2007.55, -0.21, -0.28, -0.35, -0.42, -0.52], [2007.575, -0.2, -0.27, -0.34, -0.41, -0.48],
  [2007.60, -0.22, -0.29, -0.36, -0.43, -0.55], [2007.625, -0.2, -0.27, -0.34, -0.41],
  [2007.65, -0.21, -0.28, -0.35, -0.42, -0.5], [2007.675, -0.2, -0.27, -0.34, -0.41, 0.85],
  [2007.70, -0.22, -0.29, -0.36, -0.43], [2007.725, -0.2, -0.27, -0.34, -0.4], [2007.75, -0.22, -0.28, -0.35],
  [2007.2375, -0.28, -0.35, -0.42], [2007.2625, -0.21, -0.28, -0.35, -0.42], [2007.2875, -0.25, -0.32, -0.39, -0.46],
  [2007.3125, -0.26, -0.33, -0.4, -0.47], [2007.3375, -0.26, -0.33, -0.4, -0.5], [2007.3625, -0.25, -0.32, -0.39, -0.46],
  [2007.3875, -0.25, -0.32, -0.39, -0.46], [2007.4125, -0.24, -0.31, -0.38, -0.45], [2007.4375, -0.24, -0.31, -0.38, -0.45],
  [2007.4625, -0.24, -0.31, -0.38, -0.46], [2007.4875, -0.25, -0.32, -0.39, -0.47], [2007.5125, -0.24, -0.31, -0.38, -0.45],
  [2007.5375, -0.24, -0.31, -0.38, -0.46], [2007.5625, -0.24, -0.31, -0.38, -0.45], [2007.5875, -0.25, -0.32, -0.39, -0.47],
  [2007.6125, -0.24, -0.31, -0.38, -0.45], [2007.6375, -0.24, -0.31, -0.38, -0.46], [2007.6625, -0.24, -0.31, -0.38, -0.45],
  [2007.6875, -0.25, -0.32, -0.39, -0.46], [2007.7125, -0.24, -0.31, -0.38], [2007.7375, -0.24, -0.31, -0.37],
  [2007.90, -0.22, -0.3, -0.38], [2007.925, -0.2, -0.28, -0.36, -0.44], [2007.95, -0.22, -0.3, -0.38, -0.46],
  [2007.975, -0.2, -0.28, -0.36, -0.43], [2008.00, -0.22, -0.3, -0.38],
  [2007.9125, -0.25, -0.33, -0.41], [2007.9375, -0.24, -0.32, -0.4], [2007.9625, -0.25, -0.33, -0.42], [2007.9875, -0.24, -0.32, -0.4],
  [2008.025, -0.2, -0.28, -0.36, 0.18], [2008.05, -0.19, -0.27, -0.35], [2008.075, -0.2, -0.28, -0.36, 0.2],
  [2008.10, -0.18, -0.26, -0.34, 0.22, 0.15], [2008.125, -0.2, -0.28, -0.37, 0.2], [2008.15, -0.19, -0.27, -0.35],
  [2008.175, -0.2, -0.28, -0.38, 0.16], [2008.20, -0.18, -0.26, -0.34], [2008.225, -0.2, -0.29, -0.4],
  [2008.25, -0.19, -0.27, -0.35, -0.42],
  [2008.0125, -0.24, -0.32], [2008.0375, -0.23, -0.31, -0.39], [2008.0625, -0.23, -0.31], [2008.0875, -0.24, -0.32, -0.38],
  [2008.1125, -0.22, -0.3], [2008.1375, -0.23, -0.31, -0.39], [2008.1625, -0.23, -0.31], [2008.1875, -0.24, -0.32],
  [2008.2125, -0.22, -0.3, -0.37], [2008.2375, -0.23, -0.31, -0.39],
  [2008.28, -0.3, -0.23, -0.16, -0.09, -0.02, 0.05, 0.12],
  [2008.30, -0.2, -0.27, -0.34, -0.41], [2008.325, -0.19, -0.26, -0.33, -0.4, -0.47], [2008.35, -0.2, -0.27, -0.34, -0.41],
  [2008.375, -0.21, -0.28, -0.35, -0.42, -0.5], [2008.40, -0.2, -0.27, -0.34, -0.41],
  [2008.425, -0.19, -0.26, -0.33, -0.4, -0.47], [2008.45, -0.2, -0.27, -0.34, -0.41, -0.55],
  [2008.475, -0.21, -0.28, -0.35, -0.42, -0.58], [2008.50, -0.2, -0.27, -0.34, -0.41, -0.48],
  [2008.525, -0.19, -0.26, -0.33, -0.4, -0.5], [2008.55, -0.2, -0.27, -0.34, -0.41, -0.57],
  [2008.575, -0.21, -0.28, -0.35, -0.42, -0.5], [2008.60, -0.2, -0.27, -0.34, -0.41, -0.55],
  [2008.625, -0.19, -0.26, -0.33, -0.4, -0.47], [2008.65, -0.2, -0.27, -0.34, -0.41, -0.52],
  [2008.675, -0.21, -0.28, -0.35, -0.42, -0.5], [2008.70, -0.2, -0.27, -0.34, -0.41, 0.5],
  [2008.725, -0.19, -0.26, -0.33, -0.4, -0.5], [2008.75, -0.2, -0.27, -0.34, -0.41, -0.47],
  [2008.775, -0.21, -0.28, -0.35, -0.42], [2008.80, -0.2, -0.27, -0.34, -0.41, -0.48],
  [2008.825, -0.19, -0.26, -0.33, -0.4], [2008.85, -0.2, -0.27, -0.34], [2008.87, -0.18, -0.25],
  [2008.3125, -0.23, -0.3, -0.37, -0.44], [2008.3375, -0.23, -0.3, -0.37, -0.45], [2008.3625, -0.24, -0.31, -0.38, -0.45],
  [2008.3875, -0.23, -0.3, -0.37, -0.44], [2008.4125, -0.23, -0.3, -0.37, -0.46], [2008.4375, -0.24, -0.31, -0.38, -0.45],
  [2008.4625, -0.23, -0.3, -0.37, -0.44, -0.51], [2008.4875, -0.24, -0.31, -0.38, -0.45], [2008.5125, -0.23, -0.3, -0.37, -0.44],
  [2008.5375, -0.23, -0.3, -0.37, -0.45], [2008.5625, -0.24, -0.31, -0.38, -0.45, -0.52], [2008.5875, -0.23, -0.3, -0.37, -0.44],
  [2008.6125, -0.23, -0.3, -0.37, -0.45], [2008.6375, -0.24, -0.31, -0.38, -0.44], [2008.6625, -0.23, -0.3, -0.37, -0.45],
  [2008.6875, -0.23, -0.3, -0.37, -0.44], [2008.7125, -0.24, -0.31, -0.38, -0.45], [2008.7375, -0.23, -0.3, -0.37, -0.44],
  [2008.7625, -0.23, -0.3, -0.37, -0.45], [2008.7875, -0.24, -0.31, -0.38], [2008.8125, -0.23, -0.3, -0.37, -0.44],
  [2008.8375, -0.23, -0.3, -0.37],
  [2008.95, -0.2, -0.28, -0.35], [2008.975, -0.22, -0.3, -0.4], [2009.00, -0.2, -0.28, -0.36, 0.15],
  [2009.025, -0.22, -0.3, -0.38, -0.45], [2009.05, -0.2, -0.28, -0.36, 0.18], [2009.075, -0.21, -0.29, -0.4, -0.5],
  [2009.10, -0.2, -0.28, -0.36, -0.44], [2009.125, -0.22, -0.3, -0.38, 0.25], [2009.15, -0.2, -0.28, -0.36, -0.45],
  [2009.175, -0.22, -0.3, -0.38, -0.48], [2009.20, -0.2, -0.28, -0.4, -0.55], [2009.225, -0.22, -0.32, -0.45, -0.52, -0.58],
  [2009.25, -0.25, -0.35],
  [2008.9625, -0.24, -0.32], [2009.0125, -0.24, -0.32, -0.4], [2009.0375, -0.25, -0.33], [2009.0625, -0.24, -0.32, -0.4],
  [2009.0875, -0.25, -0.33, -0.45], [2009.1125, -0.24, -0.32, -0.4], [2009.1375, -0.25, -0.33, -0.42], [2009.1625, -0.24, -0.32, -0.4],
  [2009.1875, -0.25, -0.34, -0.44], [2009.2125, -0.24, -0.34, -0.47],
  [2009.28, -0.05, -0.12, -0.19, -0.26, -0.33, -0.4],
  [2009.295, 0.05, -0.02, -0.09, -0.16, -0.23, -0.3, -0.37, -0.44],
  [2009.31, 0.1, 0.03, -0.04, -0.11, -0.18, -0.25, -0.32, -0.39, -0.46],
  [2009.325, 0.02, -0.05, -0.12, -0.19, -0.26, -0.33, -0.4, -0.47], [2009.34, -0.1, -0.17, -0.24, -0.31, -0.38, -0.45],
  [2009.37, -0.35, -0.42], [2009.40, -0.3, -0.38, -0.45, -0.52],
];

const fefCols: number[][] = [
  [2005.680, -0.48, -0.41, -0.34, -0.27, -0.2, -0.13, -0.06, 0.0], [2005.705, -0.46, -0.39, -0.32, -0.25, -0.18, -0.11, -0.04, 0.02],
  [2005.730, -0.44, -0.37, -0.3, -0.23, -0.16, -0.09, -0.02, 0.03], [2005.755, -0.45, -0.38, -0.31, -0.24, -0.17, -0.1, -0.03, 0.01],
  [2005.780, -0.42, -0.35, -0.28, -0.21, -0.14, -0.07, 0.0, 0.03], [2005.805, -0.44, -0.37, -0.3, -0.23, -0.16, -0.09, -0.02, 0.02],
  [2005.830, -0.41, -0.34, -0.27, -0.2, -0.13, -0.06, 0.01], [2005.855, -0.43, -0.36, -0.29, -0.22, -0.15, -0.08, -0.01, 0.03],
  [2005.880, -0.4, -0.33, -0.26, -0.19, -0.12, -0.05, 0.02], [2005.905, -0.42, -0.35, -0.28, -0.21, -0.14, -0.07, 0.0, 0.04],
  [2005.930, -0.39, -0.32, -0.25, -0.18, -0.11, -0.04, 0.03], [2005.955, -0.44, -0.37, -0.3, -0.23, -0.16, -0.09, -0.02, 0.05],
  [2005.980, -0.45, -0.4, -0.33, -0.26, -0.19, -0.12, -0.05, 0.02, 0.08], [2006.005, -0.38, -0.31, -0.24, -0.17, -0.1, -0.03, 0.04, 0.09],
  [2006.030, -0.41, -0.34, -0.27, -0.2, -0.13, -0.06, 0.01, 0.07], [2006.055, -0.39, -0.32, -0.25, -0.18, -0.11, -0.04, 0.03, 0.1],
  [2006.080, -0.4, -0.33, -0.26, -0.19, -0.12, -0.05, 0.02, 0.08, 0.66], [2006.105, -0.42, -0.35, -0.28, -0.21, -0.14, -0.07, 0.0, 0.07, 0.25],
  [2006.130, -0.38, -0.31, -0.24, -0.17, -0.1, -0.03, 0.04, 0.1, -0.46], [2006.155, -0.4, -0.33, -0.26, -0.19, -0.12, -0.05, 0.02, 0.08],
  [2006.180, -0.37, -0.3, -0.23, -0.16, -0.09, -0.02, 0.05, 0.1], [2006.205, -0.39, -0.32, -0.25, -0.18, -0.11, -0.04, 0.03, 0.08],
  [2006.230, -0.38, -0.31, -0.24, -0.17, -0.1, -0.03, 0.04, 0.09], [2006.255, -0.36, -0.29, -0.22, -0.15, -0.08, -0.01, 0.06, 0.1],
  [2006.280, -0.38, -0.31, -0.24, -0.17, -0.1, -0.03, 0.04, 0.08], [2006.305, -0.37, -0.3, -0.23, -0.16, -0.09, -0.02, 0.05, 0.09],
  [2006.330, -0.39, -0.32, -0.25, -0.18, -0.11, -0.04, 0.03, 0.07], [2006.355, -0.37, -0.3, -0.23, -0.16, -0.09, -0.02, 0.05, 0.08],
  [2006.380, -0.38, -0.31, -0.24, -0.17, -0.1, -0.03, 0.04, 0.07], [2006.405, -0.36, -0.29, -0.22, -0.15, -0.08, -0.01, 0.06, 0.09],
  [2006.430, -0.38, -0.31, -0.24, -0.17, -0.1, -0.03, 0.04, 0.08], [2006.455, -0.37, -0.3, -0.23, -0.16, -0.09, -0.02, 0.05, 0.07],
  [2006.480, -0.39, -0.32, -0.25, -0.18, -0.11, -0.04, 0.03, 0.06, 0.15], [2006.505, -0.37, -0.3, -0.23, -0.16, -0.09, -0.02, 0.05, 0.07, 0.22],
  [2006.530, -0.38, -0.31, -0.24, -0.17, -0.1, -0.03, 0.04],
  [2006.595, -0.76],
  [2006.635, -0.42, -0.35, -0.28, -0.21, -0.14, -0.07, 0.0, 0.04],
  [2006.660, -0.4, -0.33, -0.26, -0.19, -0.12, -0.05, 0.02], [2006.685, -0.43, -0.36, -0.29, -0.22, -0.15, -0.08, -0.01, 0.04],
  [2006.710, -0.41, -0.34, -0.27, -0.2, -0.13, -0.06, 0.01, 0.05], [2006.735, -0.42, -0.35, -0.28, -0.21, -0.14, -0.07, 0.0, 0.04],
  [2006.760, -0.4, -0.33, -0.26, -0.19, -0.12, -0.05, 0.02], [2006.785, -0.43, -0.36, -0.29, -0.22, -0.15, -0.08, -0.01, 0.05],
  [2006.810, -0.41, -0.34, -0.27, -0.2, -0.13, -0.06, 0.01, 0.04], [2006.835, -0.42, -0.35, -0.28, -0.21, -0.14, -0.07, 0.0, 0.06],
  [2006.860, -0.4, -0.33, -0.26, -0.19, -0.12, -0.05, 0.02, 0.05], [2006.885, -0.41, -0.34, -0.27, -0.2, -0.13, -0.06, 0.01, 0.04],
  [2006.910, -0.39, -0.32, -0.25, -0.18, -0.11, -0.04, 0.03, 0.06], [2006.935, -0.4, -0.33, -0.26, -0.19, -0.12, -0.05, 0.02, 0.07],
  [2006.960, -0.38, -0.31, -0.24, -0.17, -0.1, -0.03, 0.04, 0.07], [2006.985, -0.37, -0.3, -0.23, -0.16, -0.09, -0.02, 0.05, 0.08],
  [2007.010, -0.33, -0.26, -0.19, -0.12, -0.05, 0.02, 0.08], [2007.035, -0.31, -0.24, -0.17, -0.1, -0.03, 0.04, 0.1],
  [2007.060, -0.34, -0.27, -0.2, -0.13, -0.06, 0.01, 0.08], [2007.085, -0.3, -0.23, -0.16, -0.09, -0.02, 0.05, 0.1],
  [2007.110, -0.33, -0.26, -0.19, -0.12, -0.05, 0.02, 0.09], [2007.135, -0.31, -0.24, -0.17, -0.1, -0.03, 0.04, 0.1, -0.42],
  [2007.160, -0.32, -0.25, -0.18, -0.11, -0.04, 0.03, 0.09], [2007.185, -0.3, -0.23, -0.16, -0.09, -0.02, 0.05, 0.11],
  [2007.210, -0.31, -0.24, -0.17, -0.1, -0.03, 0.04, 0.1, 0.5], [2007.235, -0.28, -0.21, -0.14, -0.07, 0.0, 0.07, 0.11],
  [2007.260, -0.22, -0.15, -0.08, -0.01, 0.06, 0.11], [2007.285, -0.2, -0.13, -0.06, 0.01, 0.08, 0.12],
  [2007.310, -0.23, -0.16, -0.09, -0.02, 0.05, 0.1], [2007.335, -0.21, -0.14, -0.07, 0.0, 0.07, 0.12],
  [2007.360, -0.2, -0.13, -0.06, 0.01, 0.08, 0.11], [2007.385, -0.22, -0.15, -0.08, -0.01, 0.06, 0.12],
  [2007.410, -0.2, -0.13, -0.06, 0.01, 0.08, 0.11], [2007.435, -0.21, -0.14, -0.07, 0.0, 0.07, 0.12],
  [2007.460, -0.19, -0.12, -0.05, 0.02, 0.09, 0.12], [2007.485, -0.22, -0.15, -0.08, -0.01, 0.06, 0.11],
  [2007.510, -0.2, -0.13, -0.06, 0.01, 0.08, 0.12], [2007.535, -0.21, -0.14, -0.07, 0.0, 0.07, 0.11],
  [2007.560, -0.19, -0.12, -0.05, 0.02, 0.09, 0.12], [2007.585, -0.2, -0.13, -0.06, 0.01, 0.08, 0.11],
  [2007.610, -0.22, -0.15, -0.08, -0.01, 0.06, 0.12], [2007.635, -0.2, -0.13, -0.06, 0.01, 0.08, 0.11],
  [2007.660, -0.21, -0.14, -0.07, 0.0, 0.07, 0.12], [2007.685, -0.19, -0.12, -0.05, 0.02, 0.09, 0.11],
  [2007.710, -0.2, -0.13, -0.06, 0.01, 0.08, 0.12], [2007.735, -0.21, -0.14, -0.07, 0.0, 0.07, 0.11],
  [2007.760, -0.22, -0.15, -0.08, -0.01, 0.06, 0.12], [2007.785, -0.2, -0.13, -0.06, 0.01, 0.08, 0.12],
  [2007.810, -0.2, -0.13, -0.06, 0.01, 0.08, 0.13], [2007.835, -0.18, -0.11, -0.04, 0.03, 0.1, 0.14],
  [2007.860, -0.21, -0.14, -0.07, 0.0, 0.07, 0.12], [2007.885, -0.19, -0.12, -0.05, 0.02, 0.09, 0.13],
  [2007.910, -0.17, -0.1, -0.03, 0.04, 0.11, 0.14], [2007.935, -0.2, -0.13, -0.06, 0.01, 0.08, 0.12],
  [2007.960, -0.18, -0.11, -0.04, 0.03, 0.1, 0.13], [2007.985, -0.19, -0.12, -0.05, 0.02, 0.09, 0.14],
  [2008.010, -0.17, -0.1, -0.03, 0.04, 0.11, 0.13], [2008.035, -0.18, -0.11, -0.04, 0.03, 0.1, 0.14],
  [2008.060, -0.16, -0.09, -0.02, 0.05, 0.12, 0.15], [2008.085, -0.18, -0.11, -0.04, 0.03, 0.1, 0.14],
  [2008.110, -0.17, -0.1, -0.03, 0.04, 0.11, 0.15, -0.3], [2008.135, -0.16, -0.09, -0.02, 0.05, 0.12, 0.14],
  [2008.160, -0.18, -0.11, -0.04, 0.03, 0.1, 0.15], [2008.185, -0.17, -0.1, -0.03, 0.04, 0.11, 0.14],
  [2008.210, -0.16, -0.09, -0.02, 0.05, 0.12, -0.32], [2008.235, -0.18, -0.11, -0.04, 0.03, 0.1],
  [2008.260, -0.17, -0.1, -0.03, 0.04, 0.1],
  [2008.300, -0.19, -0.12, -0.05, 0.02, 0.09, 0.14], [2008.325, -0.2, -0.13, -0.06, 0.01, 0.08, 0.15],
  [2008.350, -0.18, -0.11, -0.04, 0.03, 0.1, 0.16], [2008.375, -0.2, -0.13, -0.06, 0.01, 0.08, 0.14],
  [2008.400, -0.19, -0.12, -0.05, 0.02, 0.09, 0.15], [2008.425, -0.21, -0.14, -0.07, 0.0, 0.07, 0.14],
  [2008.450, -0.19, -0.12, -0.05, 0.02, 0.09, 0.16], [2008.475, -0.2, -0.13, -0.06, 0.01, 0.08, 0.15],
  [2008.500, -0.18, -0.11, -0.04, 0.03, 0.1, 0.14], [2008.525, -0.2, -0.13, -0.06, 0.01, 0.08, 0.15],
  [2008.550, -0.19, -0.12, -0.05, 0.02, 0.09, 0.14], [2008.575, -0.21, -0.14, -0.07, 0.0, 0.07, 0.15],
  [2008.600, -0.19, -0.12, -0.05, 0.02, 0.09, 0.14], [2008.625, -0.2, -0.13, -0.06, 0.01, 0.08, 0.15],
  [2008.650, -0.18, -0.11, -0.04, 0.03, 0.1, 0.16], [2008.675, -0.2, -0.13, -0.06, 0.01, 0.08, 0.14],
  [2008.700, -0.19, -0.12, -0.05, 0.02, 0.09, 0.15], [2008.725, -0.21, -0.14, -0.07, 0.0, 0.07, 0.14],
  [2008.750, -0.19, -0.12, -0.05, 0.02, 0.09, 0.15], [2008.775, -0.2, -0.13, -0.06, 0.01, 0.08, 0.14],
  [2008.800, -0.18, -0.11, -0.04, 0.03, 0.1, 0.15], [2008.825, -0.2, -0.13, -0.06, 0.01, 0.08, 0.14],
  [2008.850, -0.19, -0.12, -0.05, 0.02, 0.09, 0.15], [2008.875, -0.17, -0.1, -0.03, 0.04, 0.11, 0.14],
  [2008.900, -0.18, -0.11, -0.04, 0.03, 0.1, 0.13],
  [2008.925, -0.16, -0.09, -0.02, 0.05, 0.12, -0.45], [2008.950, -0.15, -0.08, -0.01, 0.06, 0.12],
  [2008.975, -0.17, -0.1, -0.03, 0.04, 0.11, 0.14], [2009.000, -0.15, -0.08, -0.01, 0.06, 0.13, 1.91],
  [2009.025, -0.16, -0.09, -0.02, 0.05, 0.12], [2009.050, -0.14, -0.07, 0.0, 0.07, 0.13],
  [2009.075, -0.16, -0.09, -0.02, 0.05, 0.12, -0.3], [2009.100, -0.15, -0.08, -0.01, 0.06, 0.13],
  [2009.125, -0.17, -0.1, -0.03, 0.04, 0.11], [2009.150, -0.15, -0.08, -0.01, 0.06, 0.12, -0.4],
  [2009.175, -0.16, -0.09, -0.02, 0.05, 0.12, -0.55], [2009.200, -0.14, -0.07, 0.0, 0.07, 0.13, -0.3],
  [2009.225, -0.16, -0.09, -0.02, 0.05, 0.12, -0.55], [2009.250, -0.15, -0.08, -0.01, 0.06, -0.25],
  [2009.355, -0.3, -0.23, -0.16, -0.09, -0.02, 0.05, 0.12, 0.2], [2009.375, -0.28, -0.21, -0.14, -0.07, 0.0, 0.07, 0.14, 0.22],
  [2009.395, -0.3, -0.23, -0.16, -0.09, -0.02, 0.05, 0.12, 0.18], [2009.412, -0.26, -0.19, -0.12, -0.05, 0.02, 0.09],
];

const refLevels = [0, 0.2, -0.2];

function expand(cols: number[][]): number[][] {
  const out: number[][] = [];
  for (const c of cols) for (let i = 1; i < c.length; i++) out.push([c[0], c[i]]);
  return out;
}

const FONT = '"Liberation Sans", Arial, Helvetica, sans-serif';
const PLUS = 'path://M5,0L5,10M0,5L10,5';
const XMARK = 'path://M0,0L10,10M10,0L0,10';

function hollow(color: string, width: number) {
  return { color: 'rgba(0,0,0,0)', borderColor: color, borderWidth: width, opacity: 1 };
}

function refLineData(solidColor: string) {
  return refLevels.map((v) => ({
    yAxis: v,
    lineStyle: v === 0
      ? { color: solidColor, width: 1, type: 'solid' as const }
      : { color: '#000', width: 1, type: [7, 5] as any },
  }));
}

export default function App() {
  const ref = useRef<HTMLDivElement>(null);
  useEffect(() => {
    if (!ref.current) return;
    const chart = echarts.init(ref.current, undefined, { renderer: 'svg' });
    const axisNameRich = (size: number, sub: number, drop: number) => ({
      a: { fontSize: size, fontFamily: FONT, color: '#000', verticalAlign: 'bottom', padding: [0, 0, drop, 0] },
      s: { fontSize: sub, fontFamily: FONT, color: '#000', verticalAlign: 'bottom' },
    });
    const base = { type: 'scatter' as const, silent: true, animation: false };
    const option: any = {
      animation: false,
      backgroundColor: '#fff',
      textStyle: { fontFamily: FONT },
      grid: [
        { left: 64, top: 16, width: 835, height: 277, show: true, borderColor: '#222', borderWidth: 1, backgroundColor: 'transparent' },
        { left: 76, top: 364, width: 838, height: 356, show: true, borderColor: '#555', borderWidth: 1.5, backgroundColor: 'transparent' },
      ],
      legend: [
        {
          data: topSeriesNames, left: 87, top: 31, orient: 'vertical', selectedMode: false,
          itemWidth: 10, itemHeight: 10, itemGap: 5, padding: [6, 10, 5, 34],
          borderColor: '#000', borderWidth: 1, backgroundColor: '#fff',
          textStyle: { fontSize: 17, lineHeight: 20, color: '#000', fontFamily: FONT, padding: [0, 0, 0, 24] },
        },
        {
          data: bottomSeriesNames, left: 107, top: 377, orient: 'horizontal', width: 120, selectedMode: false,
          itemWidth: 8, itemHeight: 8, itemGap: 2, padding: [9, 6, 9, 8],
          borderColor: '#333', borderWidth: 1.2, backgroundColor: '#fff',
          textStyle: { fontSize: 14, lineHeight: 15, color: '#000', fontFamily: FONT, padding: [0, 8, 0, 4] },
        },
      ],
      xAxis: [
        {
          gridIndex: 0, type: 'value', min: topYearTicks[0], max: topYearTicks[topYearTicks.length - 1], interval: 1,
          axisLine: { show: false }, splitLine: { show: false },
          axisTick: { inside: true, length: 8, lineStyle: { color: '#222' } },
          axisLabel: { fontSize: 16, fontWeight: 'bold', color: '#000', margin: 7, formatter: (v: number) => String(v) },
          name: 'Year', nameLocation: 'middle', nameGap: 26, nameTextStyle: { fontSize: 16, color: '#000' },
        },
        {
          gridIndex: 0, type: 'value', position: 'top', min: topYearTicks[0], max: topYearTicks[topYearTicks.length - 1], interval: 1,
          axisLine: { show: false }, splitLine: { show: false },
          axisTick: { inside: true, length: 8, lineStyle: { color: '#222' } }, axisLabel: { show: false },
        },
        {
          gridIndex: 1, type: 'value', min: bottomXMin, max: bottomXMax,
          axisLine: { show: false }, splitLine: { show: false },
          axisTick: { inside: false, length: 8, customValues: bottomYearTicks, lineStyle: { color: '#444', width: 1.2 } },
          axisLabel: { fontSize: 19, color: '#000', margin: 13, customValues: bottomYearTicks, formatter: (v: number) => String(v) },
          name: 'Year', nameLocation: 'middle', nameGap: 42, nameTextStyle: { fontSize: 19, color: '#000' },
        },
      ],
      yAxis: [
        {
          gridIndex: 0, type: 'value', min: -2, max: 2, interval: 1,
          axisLine: { show: false }, splitLine: { show: false },
          axisTick: { inside: true, length: 8, lineStyle: { color: '#222' } },
          axisLabel: { fontSize: 15, fontWeight: 'bold', color: '#000', margin: 7 },
          name: '{a|Δ CO}{s|2}{a| (ppm)}', nameLocation: 'middle', nameGap: 34, nameRotate: 90,
          nameTextStyle: { rich: axisNameRich(18, 11, 4) },
        },
        {
          gridIndex: 0, type: 'value', position: 'right', min: -2, max: 2, interval: 1,
          axisLine: { show: false }, splitLine: { show: false },
          axisTick: { inside: true, length: 8, lineStyle: { color: '#222' } }, axisLabel: { show: false },
        },
        {
          gridIndex: 1, type: 'value', min: -2.16, max: 2.16,
          axisLine: { show: false }, splitLine: { show: false },
          axisTick: { inside: false, length: 8, customValues: bottomYTicks, lineStyle: { color: '#444', width: 1.2 } },
          axisLabel: { fontSize: 19, color: '#000', margin: 12, rotate: 90, customValues: bottomYTicks },
          name: '{a|Δ CO}{s|2}{a| (ppm)}', nameLocation: 'middle', nameGap: 44, nameRotate: 90,
          nameTextStyle: { rich: axisNameRich(20, 13, 4) },
        },
      ],
      series: [
        {
          ...base, name: 'refTop', xAxisIndex: 0, yAxisIndex: 0, data: [], z: 1,
          markLine: { silent: true, symbol: 'none', label: { show: false }, data: refLineData('#666') },
        },
        { ...base, name: 'MO', xAxisIndex: 0, yAxisIndex: 0, z: 2, symbol: 'triangle', symbolSize: 9, itemStyle: hollow('#3fd83f', 1), data: expand(moCols) },
        { ...base, name: 'CV', xAxisIndex: 0, yAxisIndex: 0, z: 3, symbol: 'circle', symbolSize: 8, itemStyle: hollow('#e02222', 1), data: expand(cvCols) },
        { ...base, name: 'MD', xAxisIndex: 0, yAxisIndex: 0, z: 4, symbol: PLUS, symbolSize: 9, itemStyle: hollow('#1f1fc0', 1.1), data: expand(mdCols) },
        {
          ...base, name: 'refBottom', xAxisIndex: 2, yAxisIndex: 2, data: [], z: 1,
          markLine: { silent: true, symbol: 'none', label: { show: false }, data: refLineData('#000') },
        },
        { ...base, name: 'NWR', xAxisIndex: 2, yAxisIndex: 2, z: 2, symbol: 'circle', symbolSize: 8, itemStyle: hollow('#ff0000', 2.4), data: expand(nwrCols) },
        { ...base, name: 'HDP', xAxisIndex: 2, yAxisIndex: 2, z: 3, symbol: 'triangle', symbolSize: 9, itemStyle: hollow('#00ee00', 2), data: expand(hdpCols) },
        { ...base, name: 'SPL', xAxisIndex: 2, yAxisIndex: 2, z: 4, symbol: PLUS, symbolSize: 11, itemStyle: hollow('#0000ff', 1.6), data: expand(splCols) },
        { ...base, name: 'FEF', xAxisIndex: 2, yAxisIndex: 2, z: 5, symbol: XMARK, symbolSize: 9, itemStyle: hollow('#00ffff', 3), data: expand(fefCols) },
      ],
    };
    chart.setOption(option);
    return () => chart.dispose();
  }, []);
  return <div ref={ref} style={{ position: 'absolute', left: 0, top: 0, width: 918, height: 781, background: '#fff' }} />;
}
